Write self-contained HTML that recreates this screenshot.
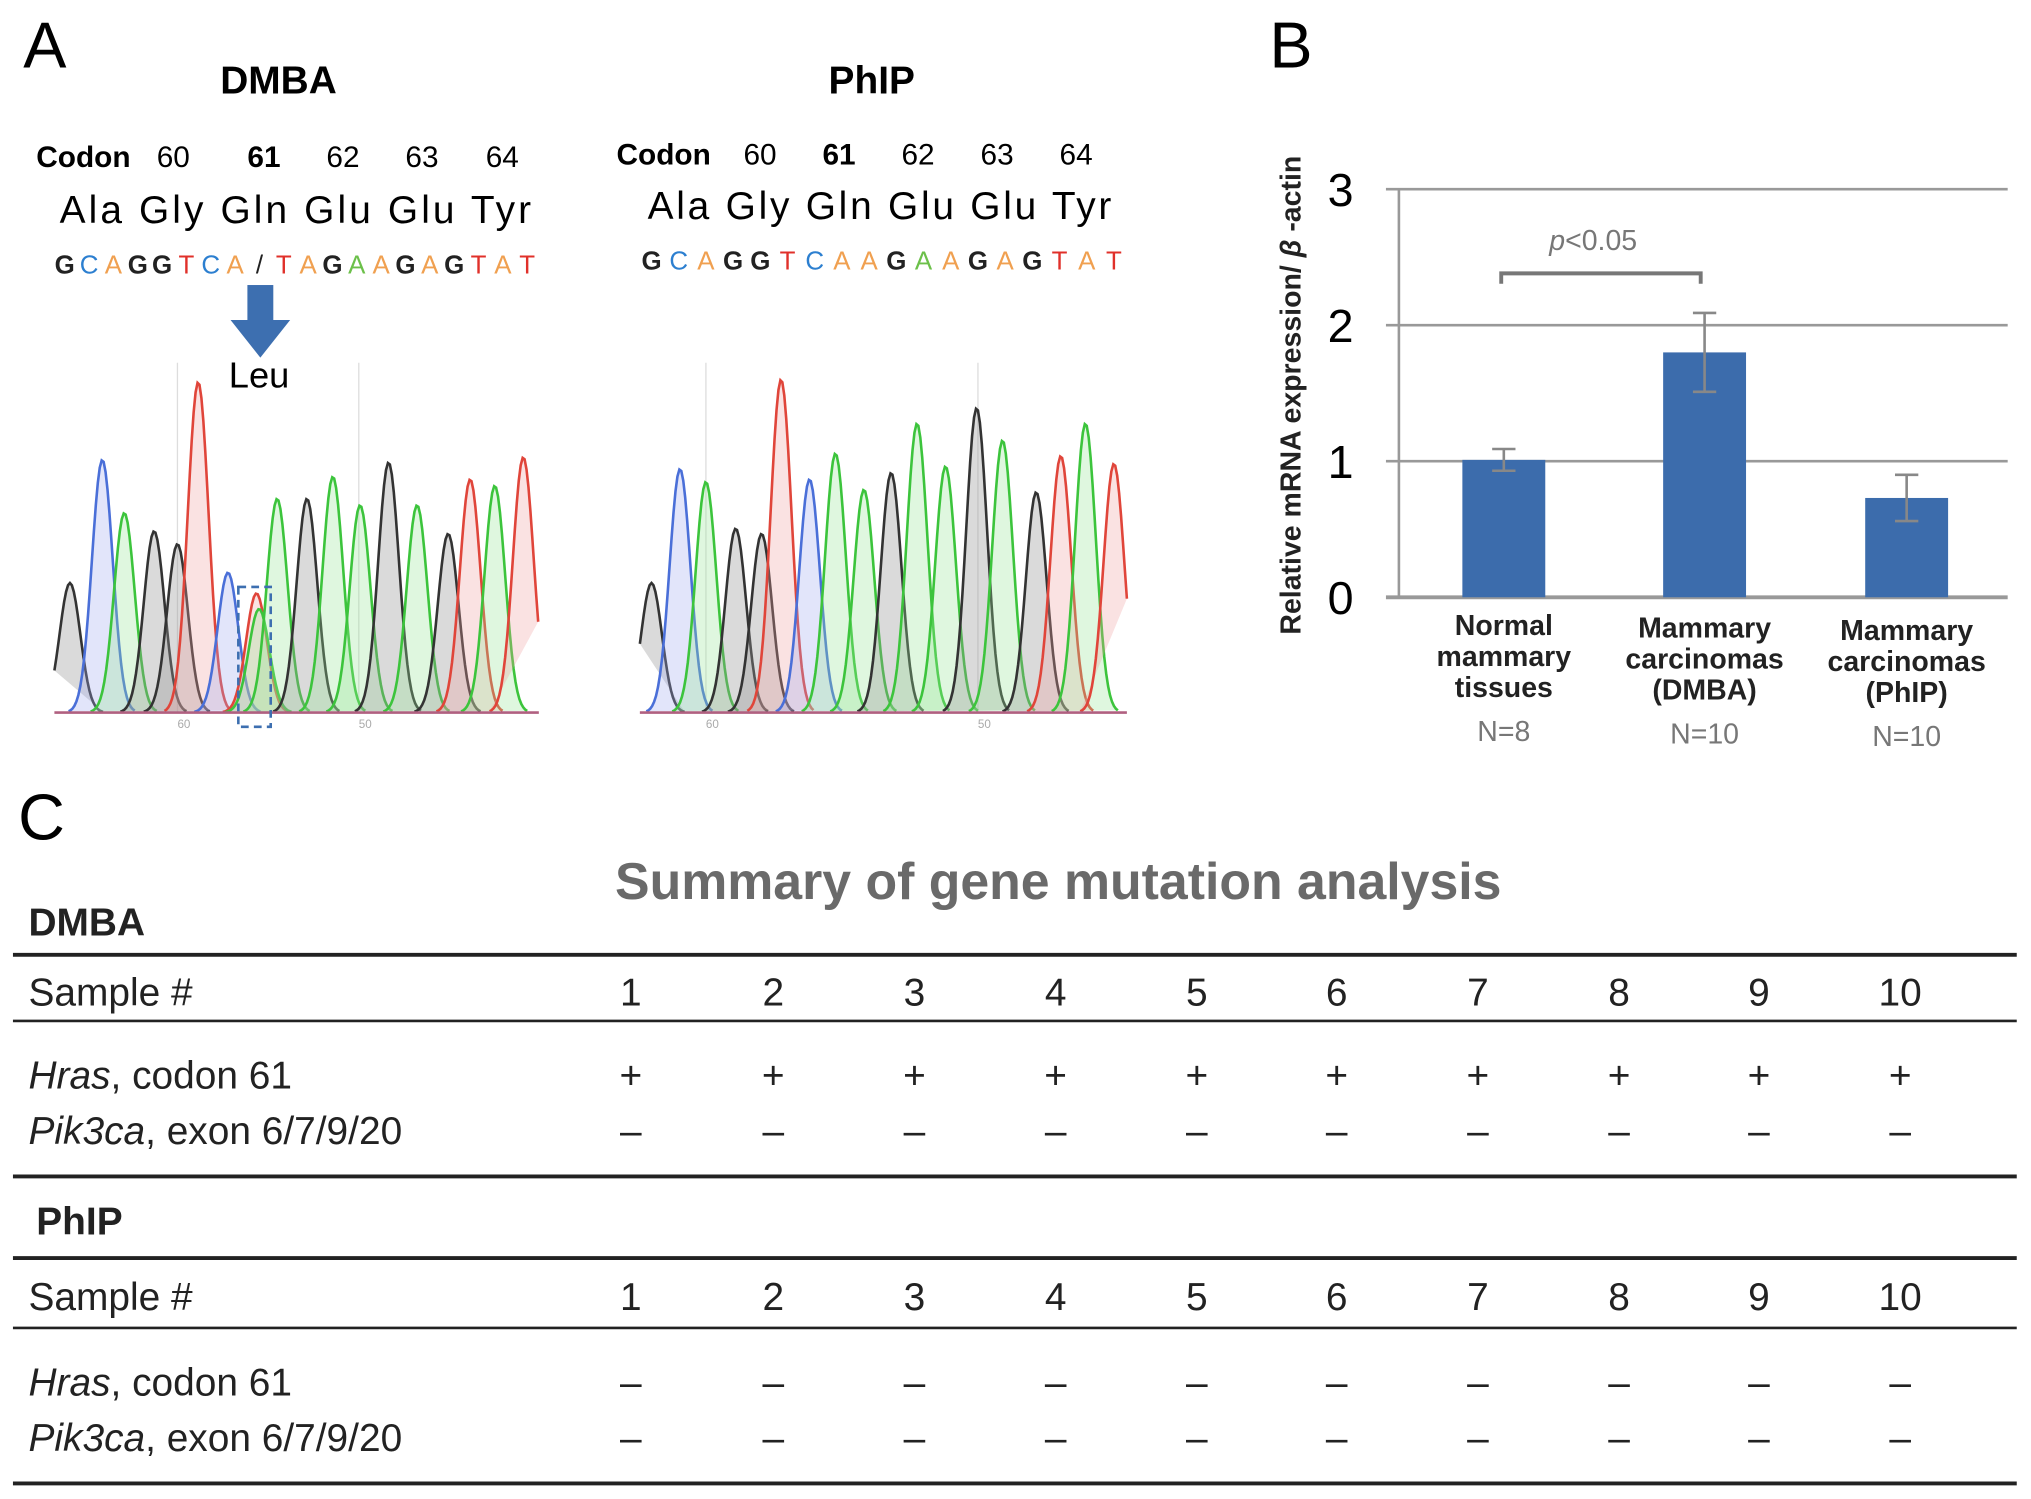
<!DOCTYPE html>
<html><head><meta charset="utf-8">
<style>
html,body{margin:0;padding:0;background:#fff;}
svg{display:block;}
text{font-family:"Liberation Sans","Noto Sans CJK JP",sans-serif;}
</style></head>
<body>
<svg id="fig" width="2031" height="1499" viewBox="0 0 1568 1157" preserveAspectRatio="none" xmlns="http://www.w3.org/2000/svg">
<rect width="1568" height="1157" fill="#fff"/>
<text x="18" y="52" font-size="50">A</text>
<text x="215" y="72" font-size="30" text-anchor="middle" font-weight="bold">DMBA</text>
<text x="673" y="72" font-size="30" text-anchor="middle" font-weight="bold">PhIP</text>
<g font-size="23">
<text x="28" y="129" font-weight="bold">Codon</text><text x="121" y="129">60</text><text x="191" y="129" font-weight="bold">61</text><text x="252" y="129">62</text><text x="313" y="129">63</text><text x="375" y="129">64</text>
</g>
<g font-size="23">
<text x="476" y="127" font-weight="bold">Codon</text><text x="574" y="127">60</text><text x="635" y="127" font-weight="bold">61</text><text x="696" y="127">62</text><text x="757" y="127">63</text><text x="818" y="127">64</text>
</g>
<text x="46" y="172" font-size="30" textLength="364">Ala Gly  Gln Glu Glu Tyr</text>
<text x="500" y="169" font-size="30" textLength="358">Ala Gly Gln Glu Glu Tyr</text>
<g id="seqD"></g>
<g id="seqP"></g>
<g>
<rect x="191" y="220" width="20" height="28" fill="#3d6fb0"/>
<polygon points="178,247 224,247 201,276" fill="#3d6fb0"/>
</g>
<text x="200" y="299" font-size="28" text-anchor="middle">Leu</text>
<g id="chromD"></g>
<g id="chromP"></g>
<rect x="184" y="453" width="25" height="108" fill="none" stroke="#3d6fb0" stroke-width="2" stroke-dasharray="6,4"/>
<text x="980" y="52" font-size="50">B</text>
<g id="barchart"></g>
<text x="14" y="648" font-size="50">C</text>
<text x="817" y="694" font-size="40" fill="#6a6a6a" text-anchor="middle" font-weight="bold">Summary of gene mutation analysis</text>
<g id="table"></g>
</svg>
<script>
var NS="http://www.w3.org/2000/svg";
function mk(tag,attrs,parent){var e=document.createElementNS(NS,tag);for(var k in attrs)e.setAttribute(k,attrs[k]);parent.appendChild(e);return e;}
var COL={G:"#222",C:"#2c7fd0",A:"#f0a050",T:"#e0302a",a:"#6cc04a","/":"#222"};
var seqDLetters=["G","C","A","G","G","T","C","A","/","T","A","G","a","A","G","A","G","T","A","T"];
var seqPLetters=["G","C","A","G","G","T","C","A","A","G","a","A","G","A","G","T","A","T"];
function drawSeq(g,letters,x0,x1,y){
  var n=letters.length;var step=(x1-x0)/(n-1);
  letters.forEach(function(L,i){
    var t=mk("text",{x:x0+i*step,y:y,"font-size":20,fill:COL[L],"text-anchor":"middle","font-weight":L==="G"?"bold":"normal"},g);t.textContent=L.toUpperCase();
  });
}
drawSeq(document.getElementById("seqD"),seqDLetters,50,407,211);
drawSeq(document.getElementById("seqP"),seqPLetters,503,860,208);
var dBase=["G","C","A","G","G","T","C","T","A","A","G","A","A","G","A","G","T","A","T"];
var dPos=[54,79,96,119,137,153,176,198,200,214,237,257,278,300,322,346,363,382,404];
var dHeight=[100,195,154,140,130,255,108,92,80,165,165,182,160,193,160,138,180,175,197];
var pBase=["G","C","A","G","G","T","C","A","A","G","A","A","G","A","G","T","A","T"];
var pPos=[503,525,545,568,588,603,625,645,667,688,708,730,754,774,800,819,838,860];
var pHeight=[100,188,178,142,138,257,180,200,172,185,223,190,235,210,170,198,223,192];
var traceCol={G:"#333",C:"#4a6fd8",A:"#3cc43c",T:"#e0453a"};
var traceFill={G:"rgba(150,150,150,0.35)",C:"rgba(160,170,240,0.3)",A:"rgba(150,230,150,0.3)",T:"rgba(240,160,160,0.3)"};
function drawChrom(g,bases,pos,hts,x0,x1,baseY,ticks){
  ticks.forEach(function(t){mk("line",{x1:t,y1:280,x2:t,y2:baseY,stroke:"#ddd","stroke-width":1},g);});
  for(var i=0;i<bases.length;i++){
    var b=bases[i],cx=pos[i],h=hts[i],sig=8,d="";
    for(var x=Math.max(x0,cx-26);x<=Math.min(x1,cx+26);x+=1.5){var y=baseY-h*Math.exp(-(x-cx)*(x-cx)/(2*sig*sig));d+=(d?"L":"M")+x.toFixed(1)+","+y.toFixed(1);}
    mk("path",{d:d+"Z",fill:traceFill[b],stroke:"none"},g);
    mk("path",{d:d,fill:"none",stroke:traceCol[b],"stroke-width":2},g);
  }
  mk("line",{x1:x0,y1:baseY,x2:x1,y2:baseY,stroke:"#b06080","stroke-width":2},g);
  ticks.forEach(function(t,i){var tt=mk("text",{x:t+5,y:baseY+12,"font-size":9,fill:"#aaa","text-anchor":"middle"},g);tt.textContent=i?"50":"60";});
}
drawChrom(document.getElementById("chromD"),dBase,dPos,dHeight,42,416,550,[137,277]);
drawChrom(document.getElementById("chromP"),pBase,pPos,pHeight,494,870,550,[545,755]);
var categories=[["Normal","mammary","tissues"],["Mammary","carcinomas","(DMBA)"],["Mammary","carcinomas","(PhIP)"]];
var nLabels=["N=8","N=10","N=10"];
var values=[1.01,1.80,0.73];
var errors=[0.08,0.29,0.17];
var yTicks=[0,1,2,3];
var bc=document.getElementById("barchart");
var ax={x0:1080,x1:1550,y0:461,y3:146};
function yS(v){return ax.y0-(ax.y0-ax.y3)*v/3;}
var centers=[1161,1316,1472];
yTicks.forEach(function(t){
  var gl=mk("line",{x1:ax.x0-10,y1:yS(t),x2:ax.x1,y2:yS(t),stroke:"#999","stroke-width":t===0?3:2},bc);
  
  
  var tl=mk("text",{x:1045,y:yS(t)+13,"font-size":36,"text-anchor":"end"},bc);tl.textContent=t;
  
  
});
mk("line",{x1:ax.x0,y1:yS(3),x2:ax.x0,y2:yS(0),stroke:"#999","stroke-width":2},bc);
values.forEach(function(v,i){
  var r=mk("rect",{x:centers[i]-32,y:yS(v),width:64,height:yS(0)-yS(v),fill:"#3c6cac"},bc);
  
  
  var e=errors[i],cx=centers[i];
  var eg=mk("path",{d:"M"+cx+","+yS(v+e)+"V"+yS(v-e)+"M"+(cx-9)+","+yS(v+e)+"H"+(cx+9)+"M"+(cx-9)+","+yS(v-e)+"H"+(cx+9),stroke:"#888","stroke-width":2,fill:"none"},bc);
  
  
  categories[i].forEach(function(line,j){
    var t=mk("text",{x:cx,y:490+i*2+j*24,"font-size":22,"text-anchor":"middle","font-weight":"bold",fill:"#222"},bc);t.textContent=line;
    
    
  });
  var n=mk("text",{x:cx,y:572+i*2,"font-size":22,"text-anchor":"middle",fill:"#777"},bc);n.textContent=nLabels[i];
  
  
});
var br=mk("path",{d:"M1159,219V211H1313V219",stroke:"#777","stroke-width":3,fill:"none"},bc);


var pt=mk("text",{x:1230,y:193,"font-size":22,"text-anchor":"middle",fill:"#777"},bc);
pt.innerHTML='<tspan font-style="italic">p</tspan>&lt;0.05';


var yt=mk("text",{transform:"translate(1004,305) rotate(-90)","font-size":22,"text-anchor":"middle","font-weight":"bold",fill:"#222"},bc);
yt.innerHTML='Relative mRNA expression/ <tspan font-style="italic">β</tspan> -actin';


var tb=document.getElementById("table");
var sampleNums=["1","2","3","4","5","6","7","8","9","10"];
var colX=[487,597,706,815,924,1032,1141,1250,1358,1467];
var dmbaHras=["+","+","+","+","+","+","+","+","+","+"];
var dmbaPik=["–","–","–","–","–","–","–","–","–","–"];
var phipHras=["–","–","–","–","–","–","–","–","–","–"];
var phipPik=["–","–","–","–","–","–","–","–","–","–"];
function txt(x,y,s,opts){var a={x:x,y:y,"font-size":30,fill:"#222"};for(var k in (opts||{}))a[k]=opts[k];var t=mk("text",a,tb);t.innerHTML=s;return t;}
[[737,3],[788,2],[908,3],[971,3],[1025,2],[1145,3]].forEach(function(l){mk("line",{x1:10,y1:l[0],x2:1557,y2:l[0],stroke:"#222","stroke-width":l[1]},tb);});
txt(22,722,"DMBA",{"font-weight":"bold"});
txt(28,953,"PhIP",{"font-weight":"bold"});
function row(y,label,vals){txt(22,y,label);vals.forEach(function(v,i){var t=txt(colX[i],y,v,{"text-anchor":"middle"});});}
row(776,"Sample #",sampleNums);
row(840,'<tspan font-style="italic">Hras</tspan>, codon 61',dmbaHras);
row(883,'<tspan font-style="italic">Pik3ca</tspan>, exon 6/7/9/20',dmbaPik);
row(1011,"Sample #",sampleNums);
row(1077,'<tspan font-style="italic">Hras</tspan>, codon 61',phipHras);
row(1120,'<tspan font-style="italic">Pik3ca</tspan>, exon 6/7/9/20',phipPik);
</script>
</body></html>
